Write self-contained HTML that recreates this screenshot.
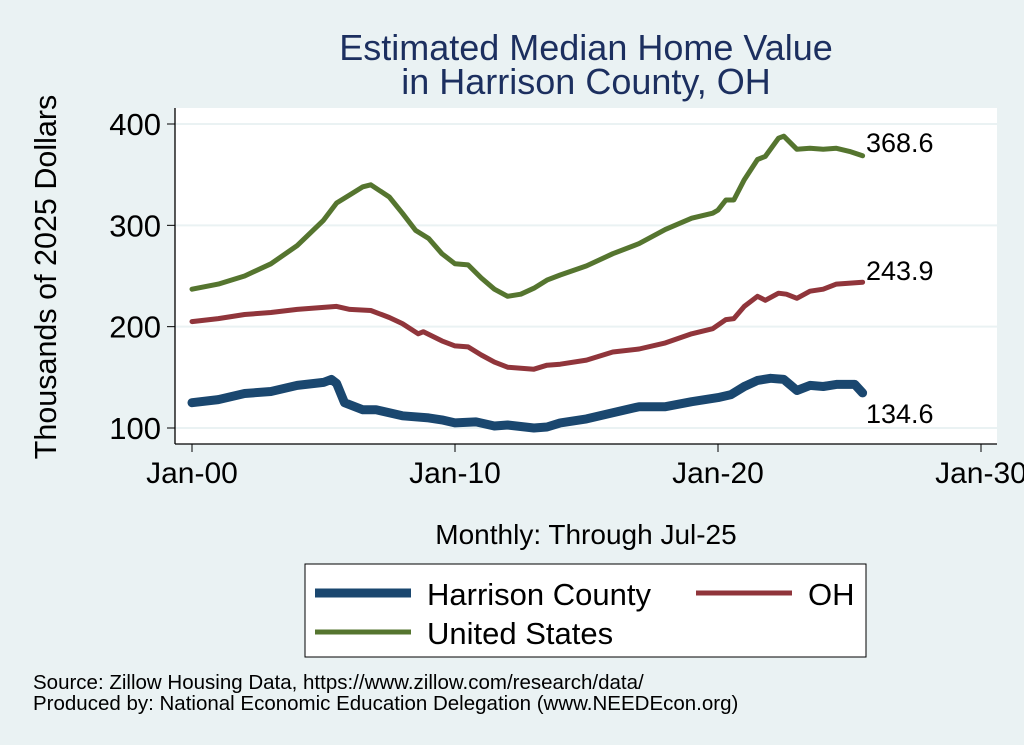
<!DOCTYPE html>
<html><head><meta charset="utf-8"><style>
body{margin:0;background:#eaf2f3;font-family:"Liberation Sans",Arial,sans-serif}
svg{display:block}
</style></head><body>
<svg width="1024" height="745" viewBox="0 0 1024 745">
<rect x="0" y="0" width="1024" height="745" fill="#eaf2f3"/>
<text x="586" y="60" font-size="36" fill="#1c2f5f" text-anchor="middle">Estimated Median Home Value</text>
<text x="586" y="94" font-size="36" fill="#1c2f5f" text-anchor="middle">in Harrison County, OH</text>
<rect x="175" y="108" width="822" height="336" fill="#ffffff"/>
<g id="grid"></g>
<g id="axes"></g>
<g id="series"></g>
<text transform="translate(56,277) rotate(-90)" font-size="30.5" text-anchor="middle" fill="#000">Thousands of 2025 Dollars</text>
<text x="586" y="544" font-size="28" text-anchor="middle" fill="#000">Monthly: Through Jul-25</text>
<g>
<rect x="305" y="564" width="561" height="93" fill="#fff" stroke="#000" stroke-width="1"/>
<line x1="315" y1="593" x2="411" y2="593" stroke="#1a476f" stroke-width="9"/>
<text x="427" y="605" font-size="31">Harrison County</text>
<line x1="696" y1="593" x2="792" y2="593" stroke="#90353b" stroke-width="5"/>
<text x="808" y="605" font-size="31">OH</text>
<line x1="315" y1="632" x2="411" y2="632" stroke="#55752f" stroke-width="5"/>
<text x="427" y="644" font-size="31">United States</text>
</g>
<text x="33" y="689" font-size="20.5">Source: Zillow Housing Data, https://www.zillow.com/research/data/</text>
<text x="33" y="710" font-size="20.5">Produced by: National Economic Education Delegation (www.NEEDEcon.org)</text>
</svg>
<script>
const yTicks=[100,200,300,400];
const xTicks=[2000,2010,2020,2030];
const xTickLabels=["Jan-00","Jan-10","Jan-20","Jan-30"];
const usT=[2000,2001,2002,2003,2004,2005,2005.5,2006,2006.5,2006.8,2007.5,2008,2008.5,2009,2009.5,2010,2010.5,2011,2011.5,2012,2012.5,2013,2013.5,2014,2015,2016,2017,2018,2019,2019.8,2020,2020.3,2020.6,2021,2021.5,2021.8,2022.3,2022.5,2023,2023.5,2024,2024.5,2025,2025.5];
const usV=[237,242,250,262,280,305,322,330,338,340,328,312,295,287,272,262,261,248,237,230,232,238,246,251,260,272,282,296,307,312,315,325,325,345,365,368,386,388,375,376,375,376,373,368.6];
const ohT=[2000,2001,2002,2003,2004,2005,2005.5,2006,2006.8,2007.5,2008,2008.6,2008.8,2009.5,2010,2010.5,2011,2011.5,2012,2013,2013.5,2014,2015,2016,2017,2018,2019,2019.8,2020.3,2020.6,2021,2021.5,2021.8,2022.3,2022.6,2023,2023.5,2024,2024.5,2025.5];
const ohV=[205,208,212,214,217,219,220,217,216,209,203,193,195,186,181,180,172,165,160,158,162,163,167,175,178,184,193,198,207,208,220,230,226,233,232,228,235,237,242,243.9];
const hcT=[2000,2001,2002,2003,2004,2005,2005.3,2005.5,2005.8,2006.5,2007,2008,2009,2009.5,2010,2010.8,2011.5,2012,2013,2013.5,2014,2015,2016,2017,2018,2019,2020,2020.5,2021,2021.5,2022,2022.5,2023,2023.5,2024,2024.5,2025.2,2025.5];
const hcV=[125,128,134,136,142,145,148,144,125,118,118,112,110,108,105,106,102,103,100,101,105,109,115,121,121,126,130,133,141,147,149,148,137,142,141,143,143,134.6];
const ns="http://www.w3.org/2000/svg";
function X(t){return 192+(t-2000)*(981-192)/30;}
function Y(v){return 428-(v-100)*(428-124)/300;}
function mk(tag,attrs,parent){const e=document.createElementNS(ns,tag);for(const k in attrs)e.setAttribute(k,attrs[k]);parent.appendChild(e);return e;}
const grid=document.getElementById('grid'),axes=document.getElementById('axes'),series=document.getElementById('series');
yTicks.forEach(v=>{
 const g=mk('line',{x1:175,x2:997,y1:Y(v),y2:Y(v),stroke:'#eaf2f3','stroke-width':2},grid);
 
 
 const t=mk('line',{x1:167,x2:175,y1:Y(v),y2:Y(v),stroke:'#000','stroke-width':1},axes);
 
 
 const l=mk('text',{x:161,y:Y(v)+11,'font-size':31,'text-anchor':'end'},axes);
 l.textContent=v;
 
 
});
mk('line',{x1:175,x2:175,y1:108,y2:444,stroke:'#000','stroke-width':1.3},axes);
mk('line',{x1:175,x2:997,y1:444,y2:444,stroke:'#000','stroke-width':1.3},axes);
xTicks.forEach((t,i)=>{
 const k=mk('line',{x1:X(t),x2:X(t),y1:444,y2:452,stroke:'#000','stroke-width':1},axes);
 
 
 const l=mk('text',{x:X(t),y:483,'font-size':30,'text-anchor':'middle'},axes);
 l.textContent=xTickLabels[i];
 
 
});
function line(T,V,color,w,name){
 const d=T.map((t,i)=>(i?'L':'M')+X(t).toFixed(1)+','+Y(V[i]).toFixed(1)).join('');
 const p=mk('path',{d:d,fill:'none',stroke:color,'stroke-width':w,'stroke-linejoin':'round','stroke-linecap':'round'},series);
 
 
}
line(hcT,hcV,'#1a476f',9,'line-harrison-county');
line(ohT,ohV,'#90353b',5,'line-oh');
line(usT,usV,'#55752f',5,'line-united-states');
function endLabel(T,V,dy,name){
 const l=mk('text',{x:866,y:Y(V[V.length-1])+dy,'font-size':27},series);
 l.textContent=V[V.length-1].toFixed(1);
 
 
}
endLabel(usT,usV,-4,'label-us-last');
endLabel(ohT,ohV,-2,'label-oh-last');
endLabel(hcT,hcV,30,'label-harrison-last');
</script>
</body></html>
